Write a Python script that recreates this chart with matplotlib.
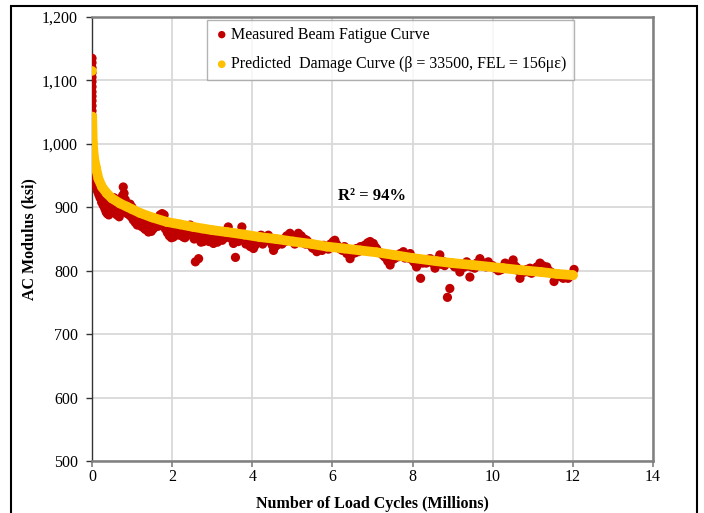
import matplotlib
matplotlib.use("Agg")
import matplotlib.pyplot as plt
from matplotlib.patches import Rectangle

plt.rcParams['font.family'] = ['Liberation Serif', 'DejaVu Serif']

# ---------------- data ----------------
measured_x = [
    0.0, 0.0, 0.0, 0.0, 0.0, 0.0, 0.0, 0.0, 0.0, 0.0, 0.0, 0.0, 0.0,
    0.01, 0.01, 0.01, 0.01, 0.01, 0.01, 0.01, 0.01, 0.01, 0.02, 0.02, 0.03,
    0.04, 0.06, 0.08, 0.10, 0.12, 0.15, 0.18, 0.20, 0.23, 0.26, 0.30, 0.33,
    0.36, 0.40, 0.43, 0.45, 0.48, 0.52, 0.55, 0.60, 0.63, 0.66, 0.70, 0.74,
    0.78, 0.80, 0.83, 0.86, 0.90, 0.95, 1.00, 1.05, 1.10, 1.15, 1.20, 1.25,
    1.30, 1.35, 1.41, 1.45, 1.50, 1.55, 1.60, 1.65, 1.70, 1.75, 1.80, 1.85,
    1.90, 1.95, 2.00, 2.03, 2.10, 2.15, 2.20, 2.28, 2.35, 2.40, 2.45, 2.50,
    2.58, 2.62, 2.66, 2.70, 2.75, 2.82, 2.90, 2.95, 3.03, 3.10, 3.15, 3.20,
    3.30, 3.36, 3.40, 3.45, 3.53, 3.58, 3.62, 3.68, 3.74, 3.80, 3.87, 3.95,
    4.03, 4.10, 4.15, 4.22, 4.30, 4.40, 4.46, 4.53, 4.60, 4.70, 4.78, 4.86,
    4.94, 5.02, 5.10, 5.15, 5.22, 5.30, 5.36, 5.45, 5.53, 5.61, 5.70, 5.78,
    5.86, 5.95, 6.02, 6.06, 6.15, 6.25, 6.36, 6.44, 6.52, 6.60, 6.70, 6.80,
    6.88, 6.94, 7.02, 7.10, 7.20, 7.30, 7.38, 7.44, 7.52, 7.60, 7.69, 7.77,
    7.85, 7.94, 8.02, 8.10, 8.20, 8.30, 8.38, 8.44, 8.50, 8.56, 8.62, 8.68,
    8.75, 8.87, 8.93, 9.00, 9.10, 9.18, 9.25, 9.35, 9.43, 9.50, 9.60, 9.68,
    9.78, 9.89, 10.00, 10.10, 10.18, 10.25, 10.31, 10.40, 10.51, 10.60, 10.68,
    10.75, 10.85, 10.93, 11.00, 11.10, 11.18, 11.25, 11.35, 11.45, 11.53,
    11.60, 11.68, 11.76, 11.85, 11.92, 12.03,
    0.05, 0.07, 0.09, 0.11, 0.14, 0.17, 0.20, 0.24, 0.28, 0.32, 0.35, 0.38,
    0.42, 0.47, 0.50, 0.57, 0.62, 0.68, 0.72, 0.76, 0.82, 0.88, 0.93, 0.98,
    1.03, 1.08, 1.13, 1.18, 1.23, 1.28, 1.33, 1.38, 1.43, 1.48, 1.53, 1.58,
    1.63, 1.68, 1.73, 1.78, 1.83, 1.88, 1.93, 1.98, 2.06, 2.12, 2.18, 2.25,
    2.32, 2.38, 2.43, 2.48, 2.55, 2.72, 2.78, 2.86, 2.92, 3.00, 3.07, 3.13,
    3.25, 3.33, 3.50, 3.65, 3.70, 3.77, 3.84, 3.92, 4.00, 4.07, 4.18, 4.26,
    4.35, 4.43, 4.50, 4.57, 4.65, 4.74, 4.82, 4.90, 4.98, 5.06, 5.13, 5.19,
    5.26, 5.33, 5.40, 5.50, 5.57, 5.65, 5.74, 5.82, 5.90, 5.98, 6.10, 6.20,
    6.30, 6.40, 6.48, 6.56, 6.65, 6.75, 6.84, 6.91, 6.98, 7.06, 7.15, 7.25,
    7.34, 7.48, 7.56, 7.65, 7.73, 7.81, 7.90, 7.98, 8.06, 8.15, 8.25, 8.34,
    8.47, 8.53, 8.59, 8.65, 8.72, 8.80, 9.05, 9.14, 9.22, 9.30, 9.38, 9.46,
    9.55, 9.64, 9.73, 9.83, 9.94, 10.05, 10.14, 10.22, 10.35, 10.45, 10.55,
    10.64, 10.72, 10.80, 10.90, 10.97, 11.05, 11.14, 11.22, 11.30, 11.40,
    11.49, 11.57, 11.64, 11.72, 11.80, 11.88, 11.96,
]
measured_y = [
    1135, 1128, 1120, 1112, 1105, 1098, 1090, 1082, 1075, 1068, 1060, 1052, 1045,
    1038, 1030, 1022, 1015, 1008, 1000, 993, 985, 978, 970, 963, 956,
    975, 962, 952, 948, 940, 935, 928, 925, 918, 912, 915, 905,
    900, 896, 902, 899, 908, 905, 915, 910, 898, 893, 891, 905,
    932, 922, 912, 900, 895, 905, 900, 893, 880, 885, 888, 878,
    875, 870, 861, 866, 872, 878, 882, 870, 888, 890, 888, 875,
    868, 862, 858, 853, 860, 868, 862, 853, 858, 866, 872, 862,
    814, 855, 819, 848, 852, 848, 858, 852, 843, 848, 855, 850,
    858, 862, 869, 852, 843, 821, 850, 858, 869, 852, 845, 838,
    835, 848, 853, 856, 850, 856, 845, 832, 840, 845, 850, 855,
    859, 852, 845, 859, 855, 850, 848, 840, 835, 830, 836, 840,
    835, 842, 846, 848, 838, 832, 827, 819, 830, 835, 838, 840,
    844, 846, 843, 835, 828, 822, 815, 809, 818, 822, 827, 830,
    825, 827, 815, 806, 788, 815, 818, 819, 812, 804, 818, 825,
    815, 758, 772, 810, 806, 798, 805, 814, 790, 808, 812, 819,
    812, 814, 808, 803, 801, 806, 812, 810, 817, 805, 788,
    800, 802, 804, 800, 806, 812, 808, 806, 798, 783,
    795, 792, 788, 790, 792, 802,
    960, 945, 940, 932, 925, 920, 915, 908, 903, 898, 893, 890,
    888, 892, 898, 895, 888, 885, 895, 918, 900, 890, 888, 885,
    880, 876, 872, 878, 870, 868, 865, 872, 869, 862, 866, 870,
    874, 878, 880, 876, 866, 860, 855, 852, 855, 862, 856, 858,
    852, 860, 862, 856, 850, 845, 846, 850, 846, 849, 852, 845,
    848, 852, 849, 846, 852, 858, 842, 843, 842, 840, 846, 842,
    848, 850, 840, 838, 842, 842, 846, 848, 850, 842, 850, 852,
    846, 842, 845, 836, 838, 834, 832, 836, 834, 838, 842, 834,
    838, 830, 826, 828, 830, 834, 836, 838, 838, 838, 830, 825,
    820, 822, 820, 822, 824, 820, 820, 818, 812, 812, 812, 812,
    816, 812, 810, 813, 810, 808, 806, 810, 810, 806, 808, 806,
    804, 810, 808, 806, 808, 804, 800, 802, 804, 808, 808,
    800, 796, 798, 798, 796, 800, 802, 800, 802, 800,
    796, 790, 792, 790, 790, 788, 792,
]

predicted_x = [0.0, 0.005, 0.02, 0.05, 0.10, 0.16, 0.25, 0.37, 0.50, 0.70,
               0.87, 1.00, 1.20, 1.50, 1.86, 2.20, 2.53, 3.00, 3.36, 3.80,
               4.19, 4.60, 5.02, 5.50, 5.86, 6.30, 6.69, 7.10, 7.52, 8.00,
               8.60, 9.00, 9.50, 10.26, 10.70, 11.20, 11.60, 12.00]
predicted_y = [1115, 1043, 1001, 978, 962, 945, 932, 922, 914, 906,
               901, 897, 891, 884, 877, 873, 869, 864, 861, 857,
               853, 850, 846, 842, 838, 835, 832, 829, 825, 820,
               815, 812, 809, 804, 801, 798, 795, 793]

x_ticks = [0, 2, 4, 6, 8, 10, 12, 14]
y_ticks = [500, 600, 700, 800, 900, 1000, 1100, 1200]
y_tick_labels = ['500', '600', '700', '800', '900', '1,000', '1,100', '1,200']

red = '#C00000'
yellow = '#FFC000'

# ---------------- figure ----------------
fig = plt.figure(figsize=(7.04, 5.13), dpi=100)
ax = fig.add_axes([92/704, 1-461/513, (653-92)/704, (461-17)/513])

ax.scatter(measured_x, measured_y, s=44, color=red, edgecolors='none',
           zorder=3, label='Measured Beam Fatigue Curve')
ax.plot(predicted_x[1:], predicted_y[1:], color=yellow, lw=7,
        solid_capstyle='round', solid_joinstyle='round', zorder=4)
ax.scatter(predicted_x, predicted_y, s=48, color=yellow, edgecolors='none',
           zorder=5, label='Predicted  Damage Curve (β = 33500, FEL = 156με)')

ax.set_xlim(0, 14)
ax.set_ylim(500, 1200)
ax.set_xticks(x_ticks)
ax.set_yticks(y_ticks)
ax.set_yticklabels(y_tick_labels)
ax.grid(True, color='#d9d9d9', lw=1.3, zorder=0)
ax.set_axisbelow(True)

for side in ['top', 'right', 'bottom']:
    ax.spines[side].set_color('#808080')
    ax.spines[side].set_linewidth(1.8)
ax.spines['left'].set_color('#333333')
ax.spines['left'].set_linewidth(1.0)

ax.tick_params(axis='x', direction='out', length=4, width=1.2, color='#808080',
               labelsize=11.5, pad=2)
ax.tick_params(axis='y', direction='out', length=4, width=1.0, color='#333333',
               labelsize=11.5, pad=6)

ax.set_xlabel('Number of Load Cycles (Millions)', fontsize=11.5,
              fontweight='bold', labelpad=8)
ax.set_ylabel('AC Modulus (ksi)', fontsize=11.5, fontweight='bold')
ax.yaxis.set_label_coords(-0.097, 0.5)

ax.text(7.0, 918, 'R² = 94%', fontsize=12, fontweight='bold',
        ha='center', va='center')

leg = ax.legend(loc='upper left', bbox_to_anchor=(0.19, 1.012), fontsize=11.5,
                frameon=True, fancybox=False, edgecolor='#a0a0a0',
                handletextpad=0.1, handlelength=1.0, labelspacing=0.85,
                borderpad=0.45, markerscale=0.8)
leg.get_frame().set_linewidth(1.0)

fig.patches.append(Rectangle((11/704, -0.05), (697-11)/704, 1.05 - 6/513,
                             transform=fig.transFigure, fill=False,
                             edgecolor='black', lw=1.5))

fig.savefig('out.png', dpi=100)
